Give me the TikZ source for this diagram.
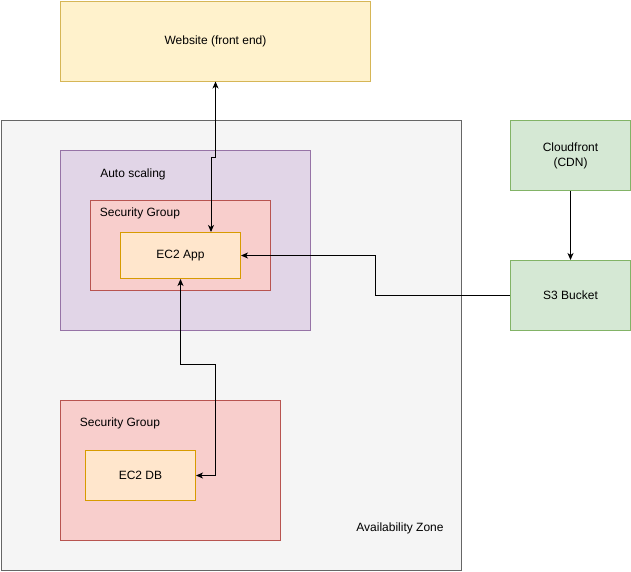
\documentclass[tikz,border=0pt]{standalone}
\usepackage{fontspec}
\setmainfont{Liberation Sans}
\usepackage{xcolor}
\usepackage{tikz}
\usetikzlibrary{arrows.meta}

\definecolor{webfill}{HTML}{FFF2CC}
\definecolor{webdraw}{HTML}{D6B656}
\definecolor{zonefill}{HTML}{F5F5F5}
\definecolor{zonedraw}{HTML}{666666}
\definecolor{asgfill}{HTML}{E1D5E7}
\definecolor{asgdraw}{HTML}{9673A6}
\definecolor{sgfill}{HTML}{F8CECC}
\definecolor{sgdraw}{HTML}{B85450}
\definecolor{ecfill}{HTML}{FFE6CC}
\definecolor{ecdraw}{HTML}{D79B00}
\definecolor{awsfill}{HTML}{D5E8D4}
\definecolor{awsdraw}{HTML}{82B366}

\begin{document}
\begin{tikzpicture}[x=1pt, y=-1pt, font=\fontsize{12}{15}\selectfont]
  \tikzstyle{box} = [rectangle, draw, line width=1pt, inner sep=0pt, anchor=north west]
  \tikzstyle{tag} = [inner sep=0pt]
  \tikzstyle{edge} = [-{Stealth[length=7pt, width=6pt, inset=2pt]}, line width=1pt]
  \tikzstyle{both} = [{Stealth[length=7pt, width=6pt, inset=2pt]}-{Stealth[length=7pt, width=6pt, inset=2pt]}, line width=1pt]

  \useasboundingbox (0,0) rectangle (631,571);

  \node[box, fill=zonefill, draw=zonedraw, minimum width=460pt, minimum height=450pt] (zone) at (0.5,120) {};
  \node[box, fill=webfill, draw=webdraw, minimum width=310pt, minimum height=80pt] (web) at (60,0.5) {Website (front end)};
  \node[box, fill=asgfill, draw=asgdraw, minimum width=250pt, minimum height=180pt] (asg) at (60,150) {};
  \node[box, fill=sgfill, draw=sgdraw, minimum width=180pt, minimum height=90pt] (sgapp) at (90,200) {};
  \node[box, fill=ecfill, draw=ecdraw, minimum width=120pt, minimum height=46pt] (app) at (120,232) {EC2 App};
  \node[box, fill=sgfill, draw=sgdraw, minimum width=220pt, minimum height=140pt] (sgdb) at (60,400) {};
  \node[box, fill=ecfill, draw=ecdraw, minimum width=110pt, minimum height=50pt] (db) at (85,450) {EC2 DB};
  \node[box, fill=awsfill, draw=awsdraw, minimum width=120pt, minimum height=70pt, align=center] (cdn) at (510,120) {Cloudfront\\(CDN)};
  \node[box, fill=awsfill, draw=awsdraw, minimum width=120pt, minimum height=70pt] (s3) at (510,260) {S3 Bucket};

  \node[tag] (zonelabel) at (400,528) {Availability Zone};
  \node[tag] (asglabel) at (133,174) {Auto scaling};
  \node[tag] (sgapplabel) at (140,213) {Security Group};
  \node[tag] (sgdblabel) at (120,423) {Security Group};

  \coordinate (jog) at (211,157);
  \coordinate (turn) at (375,295);
  \coordinate (bend) at (215,364);

  \draw[both] (web.south) |- (jog) -- (jog |- app.north);
  \draw[edge] (s3.west) -- (s3.west -| turn) |- (app.east);
  \draw[both] (app.south) |- (bend) |- (db.east);
  \draw[edge] (cdn) -- (s3);
\end{tikzpicture}
\end{document}
